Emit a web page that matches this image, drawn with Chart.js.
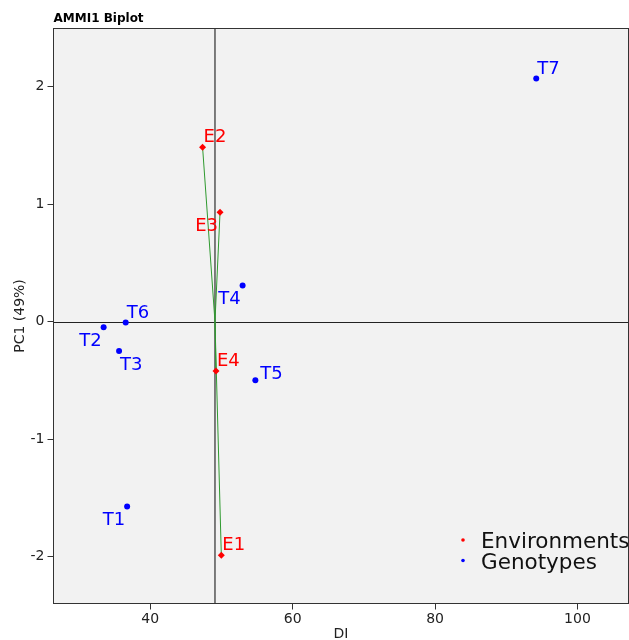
<!DOCTYPE html>
<html>
<head>
<meta charset="utf-8">
<script src="https://cdn.jsdelivr.net/npm/chart.js@4.4.0/dist/chart.umd.min.js"></script>
<style>html,body{margin:0;padding:0;background:#fff}</style>
</head>
<body>
<canvas id="chart" width="629" height="640"></canvas>
<script>
// environments (red points)
const envNames = ['E1', 'E2', 'E3', 'E4'];
const envDI = [49.98, 47.35, 49.80, 49.23];
const envPC1 = [-1.99, 1.483, 0.929, -0.421];

// genotypes (blue points)
const genNames = ['T1', 'T2', 'T3', 'T4', 'T5', 'T6', 'T7'];
const genDI = [36.75, 33.45, 35.62, 52.97, 54.76, 36.55, 94.21];
const genPC1 = [-1.574, -0.049, -0.25, 0.307, -0.50, -0.009, 2.068];

// grand mean of DI (vertical reference line)
const grandMean = 49.09;

// axes
const xTicks = [40, 60, 80, 100];
const yTicks = [-2, -1, 0, 1, 2];
const xRange = [26.41, 107.17];
const yRange = [-2.40, 2.494];

const FONT = 'DejaVu Sans';

// where each point label sits relative to its marker
const labelPlace = {E1: 'ur', E2: 'ur', E3: 'll', E4: 'ur', T1: 'll', T2: 'll', T3: 'lr', T4: 'll', T5: 'r', T6: 'ur', T7: 'ur'};
const placeOffsets = {ur: [1, -5, 'left'], ll: [-2, 19, 'right'], lr: [1, 19, 'left'], r: [5, -1, 'left']};

const toPoints = (xs, ys) => xs.map((x, i) => ({x: x, y: ys[i]}));

const datasets = [
  {label: 'Environments', names: envNames, data: toPoints(envDI, envPC1),
   backgroundColor: '#ff0000', borderColor: '#ff0000', pointStyle: 'rectRot', pointRadius: 3.5, borderWidth: 0},
  {label: 'Genotypes', names: genNames, data: toPoints(genDI, genPC1),
   backgroundColor: '#0000ff', borderColor: '#0000ff', pointStyle: 'circle', pointRadius: 3, borderWidth: 0}
];
// vectors from the origin (grand mean, 0) to each environment
envNames.forEach((n, i) => {
  datasets.push({
    data: [{x: grandMean, y: 0}, {x: envDI[i], y: envPC1[i]}],
    showLine: true, borderColor: '#2f9a2f', borderWidth: 1, pointRadius: 0
  });
});

const biplotPlugin = {
  id: 'biplot',
  beforeDraw(chart) {
    const {ctx, chartArea: a} = chart;
    ctx.save();
    ctx.fillStyle = '#f2f2f2';
    ctx.fillRect(a.left, a.top, a.right - a.left, a.bottom - a.top);
    // title
    ctx.fillStyle = '#000';
    ctx.font = 'bold 12px ' + FONT;
    ctx.textAlign = 'left';
    ctx.textBaseline = 'alphabetic';
    ctx.fillText('AMMI1 Biplot', a.left, 22);
    ctx.restore();
  },
  beforeDatasetsDraw(chart) {
    const {ctx, chartArea: a, scales: {x, y}} = chart;
    ctx.save();
    ctx.beginPath();
    ctx.strokeStyle = '#222';
    ctx.lineWidth = 1;
    const y0 = Math.round(y.getPixelForValue(0)) + 0.5;
    ctx.moveTo(a.left, y0);
    ctx.lineTo(a.right, y0);
    ctx.stroke();
    ctx.beginPath();
    ctx.strokeStyle = '#555';
    ctx.lineWidth = 1.5;
    const xm = x.getPixelForValue(grandMean);
    ctx.moveTo(xm, a.top);
    ctx.lineTo(xm, a.bottom);
    ctx.stroke();
    ctx.restore();
  },
  afterDatasetsDraw(chart) {
    const {ctx, chartArea: a} = chart;
    ctx.save();
    // point labels
    ctx.font = '18px ' + FONT;
    ctx.textBaseline = 'alphabetic';
    chart.data.datasets.forEach((ds, di) => {
      if (!ds.names) return;
      const meta = chart.getDatasetMeta(di);
      meta.data.forEach((pt, i) => {
        const off = placeOffsets[labelPlace[ds.names[i]]];
        ctx.fillStyle = ds.backgroundColor;
        ctx.textAlign = off[2];
        ctx.fillText(ds.names[i], pt.x + off[0], pt.y + off[1]);
      });
    });
    // legend
    ctx.font = '21.5px ' + FONT;
    ctx.textAlign = 'left';
    let ly = 540;
    chart.data.datasets.forEach(ds => {
      if (!ds.names) return;
      ctx.fillStyle = ds.backgroundColor;
      ctx.beginPath();
      ctx.arc(463, ly, 1.8, 0, Math.PI * 2);
      ctx.fill();
      ctx.fillStyle = '#111';
      ctx.fillText(ds.label, 481, ly + 8);
      ly += 20.5;
    });
    // frame
    ctx.strokeStyle = '#333';
    ctx.lineWidth = 1;
    ctx.strokeRect(a.left, a.top, a.right - a.left, a.bottom - a.top);
    ctx.restore();
  }
};

new Chart(document.getElementById('chart'), {
  type: 'scatter',
  data: {datasets: datasets},
  plugins: [biplotPlugin],
  options: {
    responsive: false,
    animation: false,
    events: [],
    layout: {autoPadding: false, padding: {top: 28.5, right: 0.5, left: 0, bottom: 0}},
    plugins: {legend: {display: false}, tooltip: {enabled: false}, title: {display: false}},
    scales: {
      x: {
        type: 'linear', min: xRange[0], max: xRange[1],
        afterBuildTicks: s => { s.ticks = xTicks.map(v => ({value: v})); },
        afterFit: s => { s.height = 36.5; s.paddingLeft = 0; s.paddingRight = 0; },
        grid: {drawOnChartArea: false, drawTicks: true, tickLength: 6, tickColor: '#333'},
        border: {display: false},
        ticks: {font: {family: FONT, size: 14}, color: '#222', padding: 1, maxRotation: 0},
        title: {display: true, text: 'DI', color: '#222', font: {family: FONT, size: 14, lineHeight: 0.86}, padding: 0}
      },
      y: {
        type: 'linear', min: yRange[0], max: yRange[1],
        afterBuildTicks: s => { s.ticks = yTicks.map(v => ({value: v})); },
        afterFit: s => { s.width = 53.5; s.paddingTop = 0; s.paddingBottom = 0; },
        grid: {drawOnChartArea: false, drawTicks: true, tickLength: 6, tickColor: '#333'},
        border: {display: false},
        ticks: {font: {family: FONT, size: 14}, color: '#222', padding: 3},
        title: {display: true, text: 'PC1 (49%)', color: '#222', font: {family: FONT, size: 14, lineHeight: 1.2}, padding: {top: 12, bottom: 0}}
      }
    }
  }
});
</script>
</body>
</html>
